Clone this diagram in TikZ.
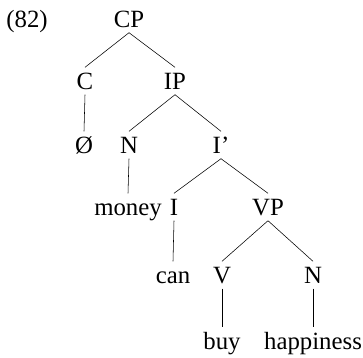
\documentclass[tikz,border=0pt]{standalone}
\usepackage{fontspec}
\setmainfont{Liberation Serif}
\begin{document}
\begin{tikzpicture}[x=1pt,y=-1pt,
  lab/.style={font=\fontsize{24.8}{29}\selectfont, anchor=base, inner xsep=0pt, inner ysep=5.5pt, text height=16pt, text depth=0pt},
  edge/.style={line width=0.55pt}]
\useasboundingbox (0,0) rectangle (363,357);
\node[lab] (ex) at (27,27) {(82)};
\node[lab] (cp) at (129,27) {CP};
\node[lab] (c) at (85,89) {C};
\node[lab] (ip) at (175,89) {IP};
\node[lab] (null) at (84,153) {Ø};
\node[lab] (n1) at (129,153) {N};
\node[lab] (ibar) at (221,153) {I’};
\node[lab] (money) at (128,215) {money};
\node[lab] (i) at (174,215) {I};
\node[lab] (vp) at (268,215) {VP};
\node[lab] (can) at (173,283) {can};
\node[lab] (v) at (222,283) {V};
\node[lab] (n2) at (313,283) {N};
\node[lab] (buy) at (222,349) {buy};
\node[lab] (hap) at (313,349) {happiness};
\draw[edge] (cp.south) -- (c.north);
\draw[edge] (cp.south) -- (ip.north);
\draw[edge] (c.south) -- (null.north);
\draw[edge] (ip.south) -- (n1.north);
\draw[edge] (ip.south) -- (ibar.north);
\draw[edge] (n1.south) -- (money.north);
\draw[edge] (ibar.south) -- (i.north);
\draw[edge] (ibar.south) -- (vp.north);
\draw[edge] (i.south) -- (can.north);
\draw[edge] (vp.south) -- (v.north);
\draw[edge] (vp.south) -- (n2.north);
\draw[edge] (v.south) -- (buy.north);
\draw[edge] (n2.south) -- (hap.north);
\end{tikzpicture}
\end{document}
